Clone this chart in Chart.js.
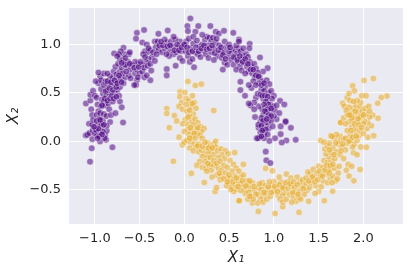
<!DOCTYPE html>
<html>
<head>
<meta charset="utf-8">
<script src="https://cdn.jsdelivr.net/npm/chart.js@4"></script>
<style>
	html, body { margin: 0; background: #fff; }
	canvas { display: block; }
</style>
</head>
<body>
<canvas id="chart" width="410" height="273"></canvas>
<script>
const xTicks = [-1.0, -0.5, 0.0, 0.5, 1.0, 1.5, 2.0];
const yTicks = [-0.5, 0.0, 0.5, 1.0];

const upperMoon = [
	[-1.054,-.212],[-1.035,-.073],[-.804,-.063],[-.685,.194],[-1.065,.18],[-.83,.198],[-1.102,.059],[-1.084,.066],[-1.06,.083],[-1.028,.021],
	[-.972,.056],[-.942,-.003],[-.875,.014],[-.886,.066],[-.868,.108],[-1.024,.111],[-.98,.118],[-.924,.146],[-.868,.16],[-1.03,.17],
	[-.97,.165],[-.91,.21],[-.95,.09],[-1.0,.08],[-.91,.1],[-.89,.03],
	[-1.10,.39],[-1.05,.42],[-1.04,.33],[-1.03,.27],[-1.02,.22],[-1.05,.48],[-1.02,.52],[-1.0,.47],[-.98,.45],[-.97,.38],
	[-.96,.31],[-.98,.27],[-.95,.23],[-.93,.36],[-.92,.43],[-.91,.49],[-.93,.54],[-.96,.6],[-.99,.62],[-.94,.67],
	[-.9,.7],[-.96,.71],[-.93,.63],[-.88,.62],[-.85,.6],[-.86,.53],[-.83,.5],[-.87,.47],[-.9,.41],[-.88,.37],
	[-.85,.39],[-.84,.33],[-.8,.41],[-.78,.5],[-.75,.53],[-.73,.47],[-.72,.56],[-.77,.59],[-.81,.57],[-.8,.65],
	[-.79,.72],[-.76,.69],[-.74,.63],[-.71,.65],[-.68,.6],[-.66,.66],[-.72,.72],[-.77,.77],[-.74,.8],[-.7,.76],
	[-.68,.83],[-.72,.85],[-.67,.9],[-.62,.9],[-.63,.82],[-.64,.77],[-.6,.74],[-.62,.68],[-.6,.65],[-.55,.7],
	[-.53,.63],[-.54,.58],[-.56,.58],[-.68,.966],[-.785,.907],[-.61,.92],[-.71,.93],[-.73,.9],[-.75,.88],[-.66,.86],
	[-.92,.37],[-.94,.29],[-.9,.28],[-.87,.26],[-.82,.27],[-.77,.29],[-.72,.41],[-.7,.35],[-.83,.67],[-.86,.7],
	[-.53,1.12],[-.54,1.06],[-.45,1.15],[-.47,1.02],[-.42,1.0],[-.44,.93],[-.41,.92],[-.46,.9],[-.38,.94],[-.36,.87],
	[-.4,.85],[-.43,.82],[-.47,.79],[-.52,.8],[-.55,.82],[-.58,.79],[-.53,.74],[-.5,.7],[-.52,.66],[-.47,.72],
	[-.45,.76],[-.41,.78],[-.38,.8],[-.33,.83],[-.37,.73],[-.38,.63],[-.447,.66],[-.42,.68],[-.29,1.11],[-.33,1.03],
	[-.3,1.03],[-.27,.99],[-.32,.97],[-.29,.94],[-.25,.92],[-.22,.96],[-.2,1.02],[-.22,1.05],[-.186,1.145],[-.15,1.03],
	[-.13,.98],[-.16,.93],[-.12,.9],[-.17,.88],[-.2,.9],[-.09,.92],[-.07,.97],[-.05,1.03],[-.1,1.05],[-.12,1.08],
	[-.197,.745],[-.197,.68],[-.097,.78],[-.05,.86],[-.02,.83],[-.04,.93],[-.01,.99],[.02,1.03],[.01,.93],[.04,.88],
	[.067,1.269],[.034,1.19],[.156,1.19],[.29,1.19],[.04,1.138],[.123,1.131],[.35,1.131],[.387,1.114],[.443,1.141],[.547,1.12],
	[.108,.765],[.06,.82],[.09,.85],[.12,.92],[.07,.96],[.1,1.01],[.05,1.06],[.1,1.08],[.14,1.04],[.17,.98],
	[.15,.9],[.18,.87],[.21,.94],[.2,1.0],[.23,1.05],[.25,1.08],[.2,1.1],[.28,1.07],[.3,1.03],[.26,.99],
	[.24,.9],[.27,.86],[.3,.92],[.33,.96],[.35,1.02],[.32,1.07],[.36,1.06],[.39,.99],[.41,.93],[.37,.88],
	[.33,.84],[.42,.86],[.45,.81],[.44,.92],[.47,.97],[.45,1.03],[.5,1.0],[.53,.92],[.49,.88],[.52,.84],
	[.48,.79],[.43,.74],[.55,.79],[.57,.87],[.56,.95],[.59,.91],[.61,.96],[.58,.99],[.63,.93],[.66,.96],
	[.61,1.05],[.61,1.03],[.73,1.007],[.726,.96],[.845,.866],[.93,.755],[.879,.72],[.6,.82],[.63,.84],[.66,.88],
	[.69,.9],[.71,.87],[.67,.81],[.7,.77],[.73,.82],[.75,.77],[.78,.8],[.8,.75],[.62,.77],[.58,.74],
	[.64,.73],[.72,.72],[.68,.7],[.76,.7],[.79,.66],[.82,.71],[.84,.66],[.87,.62],[.92,.63],[.95,.59],
	[.9,.56],[.86,.53],[.83,.6],[.626,.614],[.626,.528],[.678,.47],[.8,.45],[1.069,.417],[1.117,.38],[1.19,.138],
	[1.13,.197],[1.03,.228],[.75,.55],[.77,.62],[.72,.58],[.82,.49],[.89,.52],[.94,.5],[.97,.52],[1.0,.47],
	[.88,.44],[.93,.42],[.98,.44],[.96,.38],[.99,.36],[.91,.35],[.87,.33],[.83,.36],[.78,.4],[.74,.37],
	[.72,.39],[.78,.33],[.88,.27],[.92,.3],[.96,.31],[1.01,.32],[1.03,.37],[1.06,.29],[1.0,.26],[.95,.24],
	[.9,.22],[.85,.2],[.83,.14],[.9,.16],[.93,.19],[.97,.21],[.85,.09],[.89,.07],[.94,.13],[.987,.153],
	[1.076,.153],[1.076,.073],[1.132,.205],[.827,.17],[.909,-.108],[.916,-.198],[.961,-.226],[1.244,.014],[1.14,.007],[1.088,-.014],
	[1.013,.03],[.95,.003],[.808,.03],[.89,.03],[.883,.118],[.86,.24],[.79,.25],[.84,.04],[.8,.58],
	[-.99,.12],[-.95,.05],[-.93,.18],[-.96,.13],[-1.01,.15],[-.92,.07],[-.98,.21],[-.9,.17],[-.94,.22],[-.97,.03],
	[-.89,.44],[-.86,.42],[-.83,.44],[-.81,.47],[-.79,.44],[-.76,.46],[-.88,.52],[-.84,.55],[-.8,.53],[-.76,.56],
	[-.9,.58],[-.86,.62],[-.82,.61],[-.78,.63],[-.75,.6],[-.7,.61],[-.69,.7],[-.73,.68],[-.65,.72],[-.66,.79],
	[-.7,.81],[-.61,.8],[-.56,.76],[-.51,.77],[-.49,.82],[-.44,.87],[-.4,.96],[-.35,.92],[-.31,.9],[-.28,.99],
	[-.24,.99],[-.26,1.03],[-.19,.98],[-.16,.99],[-.11,.94],[-.08,1.0],[-.06,.94],[-.03,.97],[.0,1.0],[.03,.97],
	[.05,.92],[.09,.93],[.13,.97],[.16,.93],[.19,.96],[.22,.99],[.25,.95],[.28,.96],[.31,.99],[.34,.91],
	[.38,.94],[.41,.97],[.43,.89],[.46,.85],[.5,.93],[.51,.97],[.55,.87],[.59,.84],[.62,.88],[.65,.82],
	[.68,.85],[.71,.8],[.74,.74],[.77,.74],[.8,.68],[.83,.67],[.86,.58],[.89,.6],[.85,.48],[.87,.47],
	[.9,.47],[.93,.46],[.91,.41],[.94,.38],[.89,.38],[.93,.33],[.97,.34],[.9,.31],[.94,.27],[.97,.26],
	[.88,.21],[.92,.23],[.86,.16],[.91,.12],[.87,.11],[.93,.07],[.82,.03],[.86,.05]
];

const lowerMoon = [
	[.04,.617],[.123,.576],[.19,.59],[-.048,.51],[.007,.503],[-.197,.338],[-.197,.286],[.328,.317],[-.112,.265],[-.086,.21],
	[-.168,.139],[-.06,.042],[-.123,-.208],[.078,-.333],[.223,-.427],[.343,-.52],[.36,-.48],[.607,-.615],[-.022,-.038],[.0,-.01],
	[.562,-.118],[.614,-.615],[.659,-.24],[.76,-.639],[.827,-.726],[1.013,-.747],[1.281,-.736],[1.099,-.677],[1.389,-.622],[1.564,-.615],
	[1.657,-.517],[1.894,-.41],[1.964,-.292],[1.523,.007],[1.635,.056],[.983,-.306],[.908,-.281],[2.034,-.063],[2.116,.056],[2.05,.04],
	[1.746,.194],[2.112,.648],[2.007,.628],[1.881,.572],[1.9,.52],[2.264,.466],[2.2,.452],[2.16,.393],[2.164,.238],[2.104,.269],
	[1.769,.393],[1.788,.362],[1.747,.193],[1.82,.448],[1.84,.493],[1.85,.42],[1.981,.469],[2.03,.469],
	[-.05,.46],[-.03,.4],[-.06,.36],[-.02,.33],[.02,.44],[.05,.42],[.09,.47],[.11,.4],[.07,.36],[.03,.31],
	[.13,.34],[.1,.28],[.06,.26],[.01,.22],[-.02,.18],[.04,.17],[.08,.21],[.12,.23],[.15,.19],[.18,.15],
	[.22,.13],[.19,.1],[.13,.12],[.08,.1],[.04,.12],[.0,.1],[.05,.07],[.09,.05],[.14,.08],[.17,.06],
	[.2,.03],[.03,.01],[.07,-.01],[.11,-.03],[.06,-.07],[.13,-.06],[.16,-.03],[.1,-.1],[.16,-.11],[.19,-.09],
	[.22,-.13],[.2,-.16],[.24,-.07],[.26,-.02],[.29,-.05],[.33,-.03],[.35,.0],[.35,-.06],[.3,-.1],[.27,-.12],
	[.33,-.14],[.37,-.1],[.41,-.08],[.46,-.1],[.42,-.14],[.38,-.17],[.45,-.18],[.49,-.13],[.51,-.2],[.17,-.21],
	[.14,-.25],[.2,-.27],[.24,-.28],[.28,-.26],[.3,-.3],[.34,-.25],[.38,-.28],[.42,-.3],[.36,-.35],[.31,-.37],
	[.41,-.36],[.46,-.33],[.4,-.4],[.3,-.24],[.25,-.31],[.55,-.24],[.58,-.28],[.53,-.31],[.56,-.36],[.52,-.39],
	[.5,-.44],[.47,-.46],[.53,-.47],[.57,-.45],[.6,-.41],[.63,-.37],[.61,-.31],[.66,-.35],[.63,-.44],[.58,-.5],
	[.55,-.52],[.52,-.5],[.48,-.38],[.66,-.47],[.68,-.5],[.72,-.45],[.7,-.41],[.76,-.43],[.74,-.49],[.68,-.54],
	[.72,-.53],[.75,-.57],[.71,-.6],[.63,-.51],[.79,-.51],[.83,-.48],[.87,-.43],[.9,-.46],[.86,-.5],[.83,-.55],
	[.88,-.57],[.91,-.54],[.85,-.6],[.82,-.64],[.88,-.63],[.92,-.6],[.96,-.57],[.93,-.5],[.97,-.46],[1.0,-.42],
	[1.03,-.48],[1.0,-.52],[.97,-.53],[1.05,-.56],[1.08,-.51],[1.12,-.47],[1.08,-.42],[1.06,-.37],[1.14,-.34],[1.19,-.38],
	[1.16,-.42],[1.2,-.46],[1.13,-.53],[1.1,-.56],[1.07,-.6],[1.1,-.63],[1.14,-.6],[1.18,-.55],[1.22,-.58],[1.25,-.62],
	[1.28,-.58],[1.24,-.53],[1.29,-.51],[1.32,-.46],[1.29,-.42],[1.26,-.37],[1.32,-.4],[1.36,-.44],[1.37,-.51],[1.34,-.55],
	[1.3,-.6],[1.2,-.63],[1.4,-.48],[1.42,-.43],[1.45,-.38],[1.41,-.34],[1.38,-.32],[1.44,-.29],[1.48,-.33],[1.5,-.26],
	[1.47,-.46],[1.5,-.52],[1.46,-.54],[1.53,-.47],[1.55,-.41],[1.52,-.36],[1.58,-.34],[1.6,-.3],[1.55,-.27],[1.56,-.2],
	[1.6,-.43],[1.63,-.38],[1.66,-.36],[1.69,-.41],[1.65,-.43],[1.63,-.29],[1.68,-.28],[1.72,-.33],[1.71,-.39],[1.73,-.26],
	[1.6,-.22],[1.64,-.2],[1.68,-.18],[1.61,-.16],[1.58,-.13],[1.64,-.12],[1.57,-.08],[1.6,-.05],[1.66,-.07],[1.7,-.11],
	[1.62,-.02],[1.56,-.01],[1.72,-.03],[1.76,-.06],[1.8,-.09],[1.74,-.14],[1.78,-.18],[1.83,-.24],[1.81,-.3],[1.87,-.26],
	[1.84,-.36],[1.73,.0],[1.68,.03],[1.74,.05],[1.78,.02],[1.7,.07],[1.65,.05],[1.82,-.02],[1.86,.01],[1.9,-.03],
	[1.93,.01],[1.89,-.12],[1.93,-.14],[1.88,-.06],[1.97,-.06],[1.95,.06],[1.9,.09],[1.85,.06],[1.82,.11],[1.87,.15],
	[1.91,.13],[1.96,.11],[2.0,.08],[2.04,.13],[2.09,.16],[2.05,.19],[2.01,.21],[2.07,.25],[2.03,.28],[1.98,.26],
	[1.93,.2],[1.88,.22],[1.84,.2],[1.8,.18],[1.78,.24],[1.82,.28],[1.86,.3],[1.9,.26],[1.94,.3],[1.89,.34],
	[1.84,.35],[1.81,.32],[1.92,.37],[1.96,.35],[1.99,.31],[2.02,.34],[2.06,.36],[2.07,.31],[1.97,.4],[1.93,.42],
	[1.89,.41],[1.83,.27],[2.0,.18],
	[.02,.38],[.06,.32],[.09,.39],[.04,.25],[.1,.17],[.07,.14],[.11,.08],[.15,.14],[.12,.03],[.06,.03],
	[.15,-.05],[.2,-.05],[.23,-.01],[.27,-.07],[.31,-.07],[.25,-.17],[.29,-.17],[.23,-.21],[.26,-.23],[.33,-.2],
	[.36,-.23],[.4,-.21],[.44,-.25],[.48,-.27],[.39,-.33],[.44,-.39],[.5,-.35],[.54,-.42],[.48,-.42],[.58,-.38],
	[.6,-.47],[.65,-.41],[.69,-.46],[.73,-.41],[.78,-.47],[.8,-.55],[.77,-.6],[.73,-.57],[.84,-.44],[.89,-.53],
	[.94,-.47],[.95,-.42],[1.01,-.47],[1.04,-.52],[1.06,-.45],[1.1,-.48],[1.13,-.43],[1.16,-.49],[1.18,-.44],[1.22,-.42],
	[1.23,-.48],[1.26,-.45],[1.21,-.53],[1.27,-.55],[1.33,-.49],[1.36,-.38],[1.39,-.41],[1.43,-.37],[1.46,-.42],[1.49,-.4],
	[1.51,-.31],[1.54,-.36],[1.57,-.3],[1.62,-.33],[1.59,-.25],[1.63,-.25],[1.66,-.24],[1.67,-.14],[1.62,-.09],[1.69,-.02],
	[1.77,-.03],[1.75,-.1],[1.8,.03],[1.84,.0],[1.88,.04],[1.92,.05],[1.86,.11],[1.9,.18],[1.95,.17],[1.98,.14],
	[1.87,.24],[1.91,.31],[1.96,.25],[2.0,.27],[1.94,.23],[1.85,.27]
];

const background = {
	id: "background",
	beforeDraw(chart) {
		const {ctx, chartArea: a} = chart;
		ctx.save();
		ctx.fillStyle = "#eaeaf2";
		ctx.fillRect(a.left, a.top, a.right - a.left, a.bottom - a.top);
		ctx.restore();
	},
};

const tickLabel = v => v.toFixed(1).replace("-", "\u2212");
const textColor = "#262626";

new Chart(document.getElementById("chart"), {
	type: "scatter",
	data: {
		datasets: [
			{
				label: "0",
				data: upperMoon.map(p => ({x: p[0], y: p[1]})),
				backgroundColor: "rgba(75,0,130,0.55)",
				borderColor: "rgba(255,255,255,0.6)",
			},
			{
				label: "1",
				data: lowerMoon.map(p => ({x: p[0], y: p[1]})),
				backgroundColor: "rgba(230,170,40,0.55)",
				borderColor: "rgba(255,255,255,0.6)",
			},
		],
	},
	options: {
		responsive: false,
		animation: false,
		layout: {padding: {top: 8, right: 7, left: 0, bottom: 0}},
		elements: {point: {radius: 3.3, borderWidth: 0.7}},
		plugins: {legend: {display: false}, tooltip: {enabled: false}},
		scales: {
			x: {
				min: -1.289,
				max: 2.443,
				afterBuildTicks: axis => { axis.ticks = xTicks.map(value => ({value})); },
				afterFit: axis => { axis.height = 49; },
				border: {display: false},
				grid: {color: "#fff", lineWidth: 1, drawTicks: false},
				ticks: {
					color: textColor,
					padding: 7,
					maxRotation: 0,
					font: {family: "DejaVu Sans", size: 13},
					callback: tickLabel,
				},
				title: {
					display: true,
					text: "X\u2081",
					color: textColor,
					padding: {top: 0, bottom: 6},
					font: {family: "DejaVu Sans", size: 15, style: "italic"},
				},
			},
			y: {
				min: -0.856,
				max: 1.377,
				afterBuildTicks: axis => { axis.ticks = yTicks.map(value => ({value})); },
				afterFit: axis => { axis.width = 69; axis.paddingTop = 0; axis.paddingBottom = 0; },
				border: {display: false},
				grid: {color: "#fff", lineWidth: 1, drawTicks: false},
				ticks: {
					color: textColor,
					padding: 8,
					font: {family: "DejaVu Sans", size: 13},
					callback: tickLabel,
				},
				title: {
					display: true,
					text: "X\u2082",
					color: textColor,
					padding: {top: 5, bottom: 0},
					font: {family: "DejaVu Sans", size: 15, style: "italic"},
				},
			},
		},
	},
	plugins: [background],
});
</script>
</body>
</html>
